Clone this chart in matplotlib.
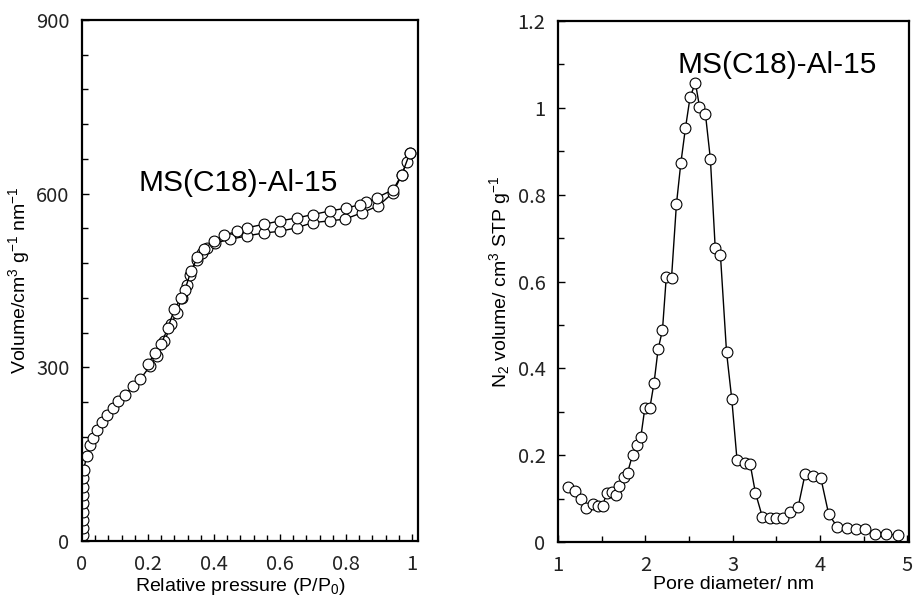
import matplotlib
matplotlib.use("Agg")
import matplotlib.pyplot as plt
from matplotlib.ticker import MultipleLocator

# Isotherm (left panel): adsorption and desorption branches
ads_p = [0.002, 0.002, 0.002, 0.002, 0.003, 0.003, 0.003, 0.004, 0.005, 0.014,
         0.024, 0.034, 0.045, 0.06, 0.075, 0.095, 0.11, 0.13, 0.156, 0.176,
         0.206, 0.226, 0.25, 0.27, 0.287, 0.302, 0.317, 0.327, 0.348, 0.363,
         0.378, 0.403, 0.448, 0.499, 0.55, 0.60, 0.65, 0.70, 0.75, 0.797,
         0.848, 0.898, 0.943, 0.969, 0.984, 0.994]
ads_v = [10, 23, 36, 50, 66, 80, 94, 109, 123, 146,
         166, 178, 192, 206, 218, 230, 241, 253, 267, 279,
         302, 319, 345, 374, 394, 420, 443, 460, 486, 498,
         506, 515, 521, 527, 532, 535, 541, 550, 553, 556,
         567, 579, 602, 633, 654, 671]
des_p = [0.994, 0.969, 0.943, 0.893, 0.862, 0.842, 0.80, 0.75, 0.70, 0.65, 0.60,
         0.55, 0.499, 0.469, 0.43, 0.40, 0.37, 0.35, 0.33, 0.312, 0.30,
         0.28, 0.26, 0.24, 0.22, 0.20]
des_v = [671, 633, 607, 593, 585, 581, 575, 570, 564, 558, 553,
         547, 541, 535, 528, 518, 505, 490, 466, 434, 420,
         400, 368, 340, 325, 305]

# Pore size distribution (right panel)
pore_d = [1.118, 1.194, 1.259, 1.32, 1.397, 1.453, 1.51, 1.556, 1.613, 1.663,
          1.70, 1.754, 1.796, 1.853, 1.899, 1.949, 1.994, 2.051, 2.10, 2.146,
          2.196, 2.24, 2.30, 2.356, 2.406, 2.459, 2.512, 2.573, 2.62, 2.688,
          2.745, 2.80, 2.86, 2.93, 2.99, 3.05, 3.14, 3.20, 3.26, 3.34,
          3.43, 3.50, 3.58, 3.66, 3.75, 3.83, 3.92, 4.01, 4.10, 4.20,
          4.31, 4.41, 4.52, 4.63, 4.76, 4.89]
pore_v = [0.127, 0.118, 0.098, 0.078, 0.0875, 0.083, 0.083, 0.112, 0.116, 0.108,
          0.129, 0.149, 0.160, 0.200, 0.223, 0.243, 0.308, 0.308, 0.367, 0.444,
          0.488, 0.611, 0.609, 0.778, 0.872, 0.953, 1.024, 1.058, 1.003, 0.986,
          0.882, 0.678, 0.661, 0.437, 0.329, 0.189, 0.183, 0.180, 0.114, 0.058,
          0.056, 0.055, 0.055, 0.070, 0.081, 0.157, 0.152, 0.147, 0.064, 0.034,
          0.032, 0.030, 0.029, 0.018, 0.018, 0.016]

SAMPLE = "MS(C18)-Al-15"

plt.rcParams["font.family"] = ["Liberation Sans", "DejaVu Sans"]
plt.rcParams["mathtext.default"] = "regular"

TICK_FONT = "Noto Sans CJK JP"

fig = plt.figure(figsize=(9.16, 5.97), dpi=100)
fig.patch.set_facecolor("white")

marker_kw = dict(marker="o", markersize=7.8, markerfacecolor="white",
                 markeredgecolor="black", markeredgewidth=0.8,
                 color="black", linewidth=1.0)


def style_axes(ax):
    for sp in ax.spines.values():
        sp.set_linewidth(1.6)
    ax.tick_params(which="both", direction="in", width=1.0, colors="black")
    ax.tick_params(which="major", length=5, pad=9)
    ax.tick_params(which="minor", length=4)
    ax.tick_params(axis="x", which="major", pad=9)
    for lab in ax.get_xticklabels() + ax.get_yticklabels():
        lab.set_fontfamily(TICK_FONT)
        lab.set_fontsize(14.5)
        lab.set_color("#222222")


# ---- left: isotherm ----
ax1 = fig.add_axes([0.0895, 0.0938, 0.3668, 0.8727])
ax1.plot(ads_p, ads_v, **marker_kw)
ax1.plot(des_p, des_v, **marker_kw)
ax1.set_xlim(0, 1.018)
ax1.set_ylim(0, 900)
ax1.xaxis.set_minor_locator(MultipleLocator(0.04))
ax1.yaxis.set_major_locator(MultipleLocator(300))
ax1.yaxis.set_minor_locator(MultipleLocator(60))
ax1.set_xticks([0, 0.2, 0.4, 0.6, 0.8, 1.0])
ax1.set_xticklabels(["0", "0.2", "0.4", "0.6", "0.8", "1"])
ax1.set_xlabel("Relative pressure (P/P$_0$)", fontsize=14, labelpad=0)
ax1.xaxis.set_label_coords(0.47, -0.068)
ax1.set_ylabel("Volume/cm$^3$ g$^{-1}$ nm$^{-1}$", fontsize=14, labelpad=3)
ax1.text(0.17, 605, SAMPLE, fontsize=21.5, ha="left", va="baseline")
style_axes(ax1)

# ---- right: pore size distribution ----
ax2 = fig.add_axes([0.6092, 0.0921, 0.3832, 0.8727])
ax2.plot(pore_d, pore_v, **marker_kw)
ax2.set_xlim(1, 5.02)
ax2.set_ylim(0, 1.2)
ax2.xaxis.set_major_locator(MultipleLocator(1))
ax2.xaxis.set_minor_locator(MultipleLocator(0.5))
ax2.yaxis.set_minor_locator(MultipleLocator(0.1))
ax2.set_yticks([0, 0.2, 0.4, 0.6, 0.8, 1.0, 1.2])
ax2.set_yticklabels(["0", "0.2", "0.4", "0.6", "0.8", "1", "1.2"])
ax2.set_xlabel("Pore diameter/ nm", fontsize=14, labelpad=0)
ax2.set_ylabel("N$_2$ volume/ cm$^3$ STP g$^{-1}$", fontsize=14, labelpad=3)
ax2.text(2.37, 1.08, SAMPLE, fontsize=21.5, ha="left", va="baseline")
style_axes(ax2)

fig.savefig("out.png", dpi=100, facecolor="white")
